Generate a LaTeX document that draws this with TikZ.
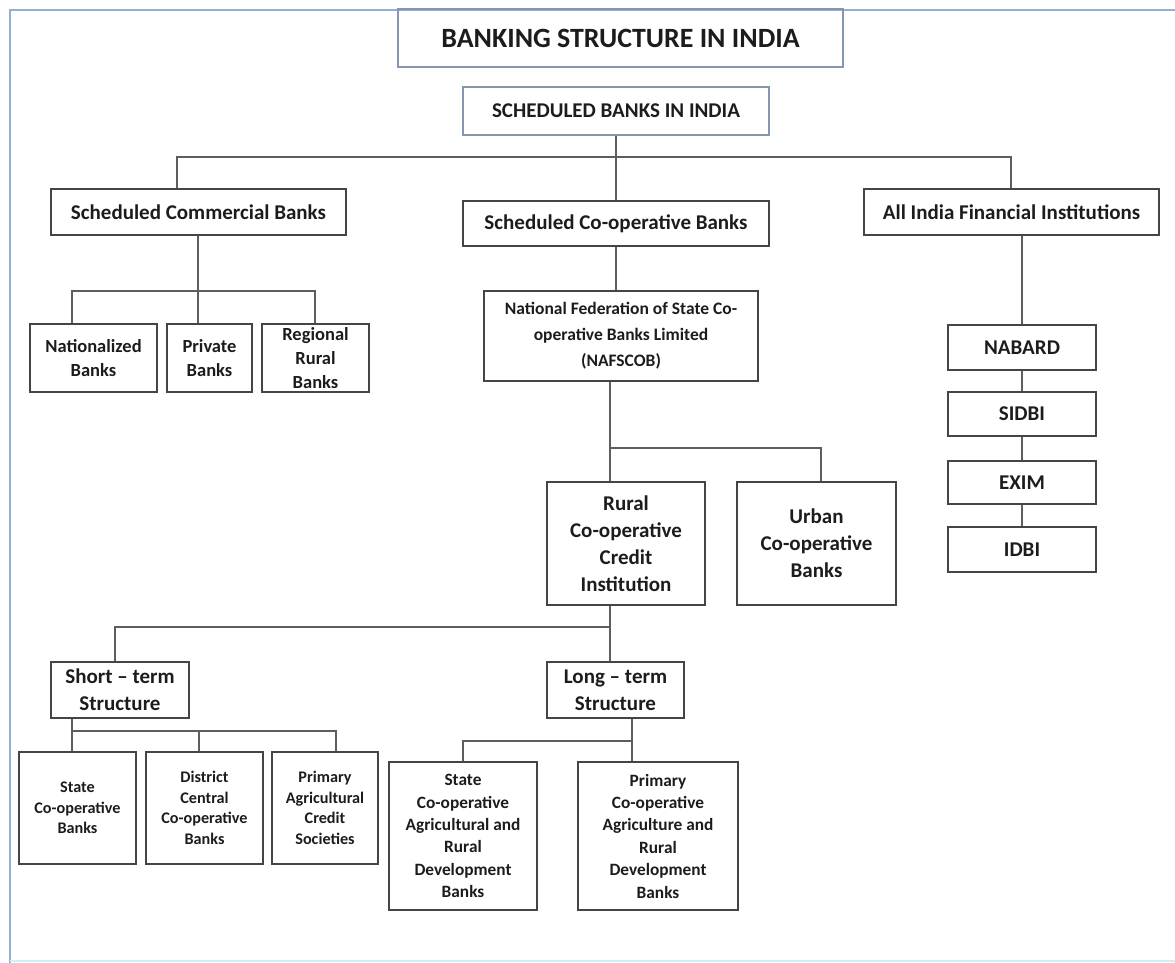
\documentclass[tikz,border=0pt]{standalone}
\usepackage{fontspec}
\setmainfont{Carlito}
\definecolor{boxcol}{HTML}{454545}
\definecolor{linecol}{HTML}{5E5E5E}
\definecolor{txtcol}{HTML}{1C1C1C}
\definecolor{titlecol}{HTML}{8496B0}
\definecolor{framecol}{HTML}{93AFD3}
\definecolor{framebot}{HTML}{CFEFF5}
\tikzset{
  box/.style={draw=boxcol, line width=1.4pt, inner sep=0pt, align=center, text=txtcol,
    font=\bfseries\fontsize{21}{27}\selectfont},
  midbox/.style={box, font=\bfseries\fontsize{18.5}{24}\selectfont},
  nafbox/.style={box, font=\bfseries\fontsize{17.5}{26}\selectfont},
  smallbox/.style={box, font=\bfseries\fontsize{16.2}{20.5}\selectfont},
  longbox/.style={box, font=\bfseries\fontsize{17.3}{22.4}\selectfont},
  headbox/.style={box, draw=titlecol, line width=1.2pt},
  conn/.style={draw=linecol, line width=1.5pt},
}
\begin{document}
\begin{tikzpicture}[x=1pt,y=-1pt]
\useasboundingbox (0,0) rectangle (1175,963);
% frame
\draw[framecol, line width=2.2pt] (10,963) -- (10,10) -- (1175,10);
\draw[framebot, line width=1.5pt] (10,961) -- (1175,961);
% header
\node[headbox, minimum width=445, minimum height=58, font=\bfseries\fontsize{27.9}{32}\selectfont] (title) at (620.5,38) {BANKING STRUCTURE IN INDIA};
\node[headbox, minimum width=306, minimum height=48] (sched) at (616,111) {SCHEDULED BANKS IN INDIA};
% level 1
\node[box, minimum width=295, minimum height=46] (scb) at (198.5,212) {Scheduled Commercial Banks};
\node[box, minimum width=306, minimum height=45] (sco) at (616,223.5) {Scheduled Co-operative Banks};
\node[box, minimum width=295, minimum height=46] (aifi) at (1011.5,212) {All India Financial Institutions};
% commercial children
\node[midbox, minimum width=127, minimum height=68] (nat) at (93.5,358) {Nationalized\\Banks};
\node[midbox, minimum width=85, minimum height=68] (pvt) at (209.5,358) {Private\\Banks};
\node[midbox, minimum width=107, minimum height=68] (rrb) at (315.5,358) {Regional\\Rural\\Banks};
% NAFSCOB
\node[nafbox, minimum width=274, minimum height=90] (naf) at (621,336) {National Federation of State Co-\\operative Banks Limited\\(NAFSCOB)};
\node[box, minimum width=158, minimum height=123] (rural) at (626,543.5) {Rural\\Co-operative\\Credit\\Institution};
\node[box, minimum width=159, minimum height=123] (urban) at (816.5,543.5) {Urban\\Co-operative\\Banks};
% structures
\node[box, minimum width=138, minimum height=56] (short) at (120,690) {Short -- term\\Structure};
\node[box, minimum width=137, minimum height=56] (long) at (615.5,690) {Long -- term\\Structure};
% short-term children
\node[smallbox, minimum width=117, minimum height=112] (sc) at (77.5,808) {State\\Co-operative\\Banks};
\node[smallbox, minimum width=117, minimum height=112] (dc) at (204.5,808) {District\\Central\\Co-operative\\Banks};
\node[smallbox, minimum width=106, minimum height=112] (pacs) at (325,808) {Primary\\Agricultural\\Credit\\Societies};
% long-term children
\node[longbox, minimum width=148, minimum height=148] (scard) at (463,836) {State\\Co-operative\\Agricultural and\\Rural\\Development\\Banks};
\node[longbox, minimum width=160, minimum height=148] (pcard) at (658,836) {Primary\\Co-operative\\Agriculture and\\Rural\\Development\\Banks};
% AIFI column
\node[box, minimum width=148, minimum height=45] (nabard) at (1022,347.5) {NABARD};
\node[box, minimum width=148, minimum height=44] (sidbi) at (1022,414) {SIDBI};
\node[box, minimum width=148, minimum height=43] (exim) at (1022,482.5) {EXIM};
\node[box, minimum width=148, minimum height=45] (idbi) at (1022,549.5) {IDBI};
% junction coordinates
\coordinate (b1l) at (177,157);
\coordinate (b1r) at (1011,157);
\coordinate (b2l) at (72,291);
\coordinate (b2m) at (198,291);
\coordinate (b2r) at (315,291);
\coordinate (b3m) at (610,448);
\coordinate (b3r) at (821,448);
\coordinate (b4l) at (115,627);
\coordinate (b4m) at (610,627);
\coordinate (b5l) at (72,731);
\coordinate (b5m) at (199,731);
\coordinate (b5r) at (336,731);
\coordinate (b6l) at (463,741);
\coordinate (b6m) at (632,741);
% connectors
\draw[conn] (sched.south) -- (sco.north);
\draw[conn] (b1l |- scb.north) -- (b1l) -- (b1r) -- (b1r |- aifi.north);
\draw[conn] (b2m |- scb.south) -- (b2m |- pvt.north);
\draw[conn] (b2l |- nat.north) -- (b2l) -- (b2r) -- (b2r |- rrb.north);
\draw[conn] (sco.south) -- (sco.south |- naf.north);
\draw[conn] (b3m |- naf.south) -- (b3m |- rural.north);
\draw[conn] (b3m) -- (b3r) -- (b3r |- urban.north);
\draw[conn] (b4m |- rural.south) -- (b4m |- long.north);
\draw[conn] (b4m) -- (b4l) -- (b4l |- short.north);
\draw[conn] (b5l |- short.south) -- (b5l |- sc.north);
\draw[conn] (b5l) -- (b5r) -- (b5r |- pacs.north);
\draw[conn] (b5m) -- (b5m |- dc.north);
\draw[conn] (b6m |- long.south) -- (b6m |- pcard.north);
\draw[conn] (b6m) -- (b6l) -- (b6l |- scard.north);
\draw[conn] (nabard.north |- aifi.south) -- (nabard.north);
\draw[conn] (nabard) -- (sidbi);
\draw[conn] (sidbi) -- (exim);
\draw[conn] (exim) -- (idbi);
\end{tikzpicture}
\end{document}
